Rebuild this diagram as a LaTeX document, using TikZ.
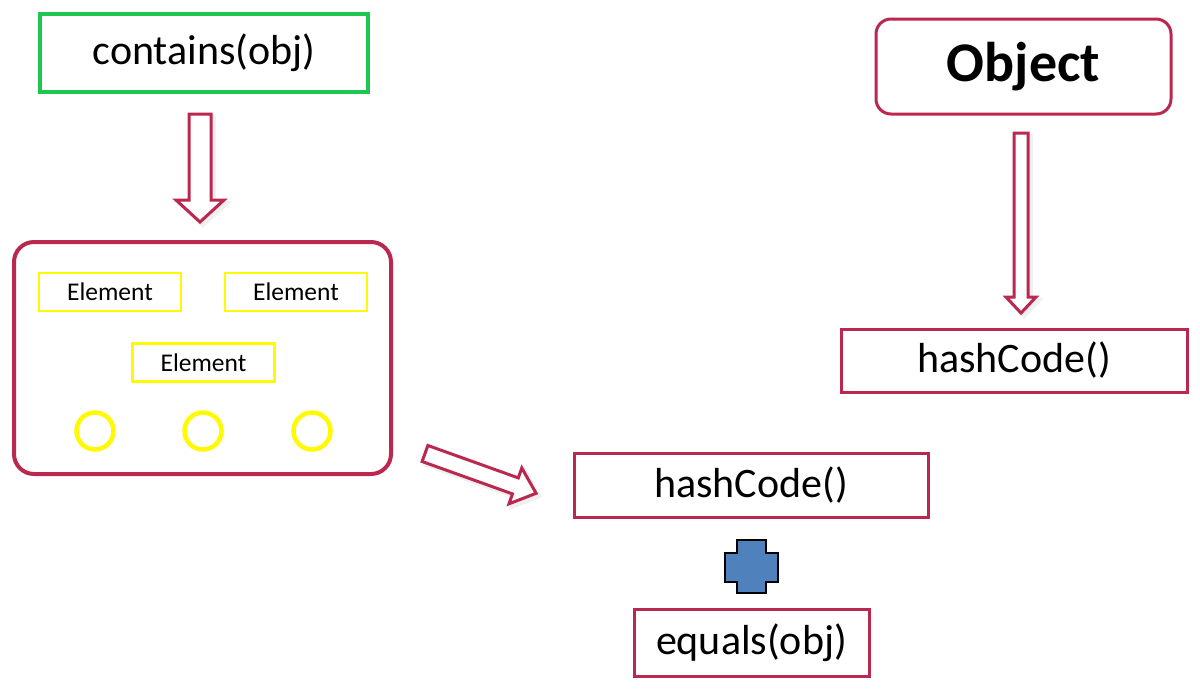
\documentclass[tikz,border=0pt]{standalone}
\usepackage{fontspec}
\setmainfont{Carlito}
\definecolor{crim}{RGB}{187,40,79}
\definecolor{grn}{RGB}{30,200,80}
\definecolor{ylw}{RGB}{255,250,0}
\definecolor{plusblue}{RGB}{79,129,189}
\begin{document}
\begin{tikzpicture}[x=1pt,y=-1pt,
  bigtxt/.style={font=\fontsize{42}{42}\selectfont},
  mbox/.style={draw=crim,line width=3pt,fill=white,inner sep=0pt,bigtxt},
  elbox/.style={draw=ylw,line width=2.5pt,inner sep=0pt,minimum width=142pt,minimum height=38pt,font=\fontsize{25.5}{25.5}\selectfont},
  ring/.style={draw=ylw,line width=4.5pt,circle,inner sep=0pt,minimum size=37pt},
  blockarrow/.style={draw=crim,line width=3pt,fill=white,line join=miter},
  arrowshadow/.style={fill=black!10,draw=black!6,line width=4pt}
]
\useasboundingbox (0,0) rectangle (1200,689);
\fill[white] (0,0) rectangle (1200,689);

% contains box
\node[draw=grn,line width=3.5pt,inner sep=0pt,minimum width=328pt,minimum height=78pt,bigtxt] (contains) at (204,53) {contains(obj)};

% down arrow 1
\begin{scope}[shift={(3,3)}]
\path[arrowshadow] (189,114) -- (211,114) -- (211,200) -- (224,200) -- (200,222) -- (176,200) -- (189,200) -- cycle;
\end{scope}
\path[blockarrow] (189,114) -- (211,114) -- (211,200) -- (224,200) -- (200,222) -- (176,200) -- (189,200) -- cycle;

% collection box
\node[draw=crim,line width=4pt,rounded corners=20pt,inner sep=0pt,minimum width=377pt,minimum height=232pt] (coll) at (202.5,358) {};
\node[elbox] (e1) at (110,292) {Element};
\node[elbox] (e2) at (296,292) {Element};
\node[elbox] (e3) at (203.5,362.5) {Element};
\node[ring] (c1) at (95,431) {};
\node[ring] (c2) at (203,431) {};
\node[ring] (c3) at (312,431) {};

% diagonal arrow
\begin{scope}[shift={(3,3)}]
\path[arrowshadow] (427.9,445.5) -- (518.3,477.9) -- (521.8,468.0) -- (536.1,493.3) -- (509.0,503.8) -- (512.5,493.9) -- (422.1,461.5) -- cycle;
\end{scope}
\path[blockarrow] (427.9,445.5) -- (518.3,477.9) -- (521.8,468.0) -- (536.1,493.3) -- (509.0,503.8) -- (512.5,493.9) -- (422.1,461.5) -- cycle;

% hashCode (middle)
\node[mbox,minimum width=354pt,minimum height=64pt] (hash2) at (751,485) {hashCode()};

% plus
\path[draw=black,line width=1.5pt,fill=plusblue] (737,540) -- (766,540) -- (766,553) -- (778,553) -- (778,582) -- (766,582) -- (766,593) -- (737,593) -- (737,582) -- (725,582) -- (725,553) -- (737,553) -- cycle;
\coordinate (plus) at (751.5,566.5);

% equals
\node[mbox,minimum width=235pt,minimum height=67pt] (equals) at (751.5,642.5) {equals(obj)};

% Object
\node[draw=crim,line width=3pt,rounded corners=15pt,inner sep=0pt,minimum width=295pt,minimum height=95pt,font=\fontsize{56}{56}\selectfont\bfseries] (object) at (1023.5,66.5) {Object};

% down arrow 2
\begin{scope}[shift={(3,3)}]
\path[arrowshadow] (1014,133) -- (1028,133) -- (1028,297) -- (1036,297) -- (1021,313) -- (1006,297) -- (1014,297) -- cycle;
\end{scope}
\path[blockarrow] (1014,133) -- (1028,133) -- (1028,297) -- (1036,297) -- (1021,313) -- (1006,297) -- (1014,297) -- cycle;

% hashCode (right)
\node[mbox,minimum width=346pt,minimum height=63pt] (hash1) at (1014,360.5) {hashCode()};
\end{tikzpicture}
\end{document}
